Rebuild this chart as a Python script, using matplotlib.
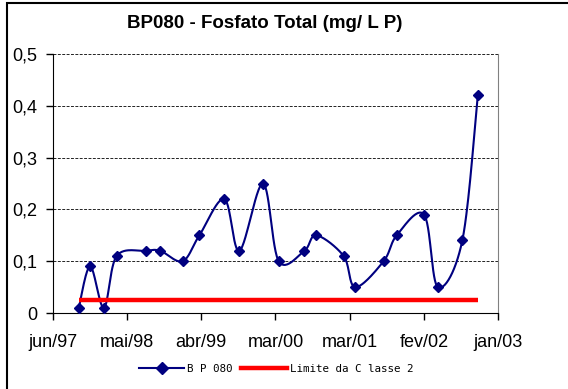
import numpy as np
import matplotlib
matplotlib.use("Agg")
import matplotlib.pyplot as plt
import matplotlib.dates as mdates
from matplotlib.lines import Line2D
from matplotlib.patches import Rectangle
import datetime as dt

plt.rcParams['font.family'] = ['Liberation Sans', 'DejaVu Sans']

# Sampling dates and total phosphate (mg/L P) at station BP080
sample_dates = [
    "1997-10-03", "1997-11-25", "1998-01-28", "1998-03-28", "1998-08-10",
    "1998-10-17", "1999-01-29", "1999-04-17", "1999-08-11", "1999-10-20",
    "2000-02-07", "2000-04-20", "2000-08-17", "2000-10-12", "2001-02-16",
    "2001-04-11", "2001-08-21", "2001-10-21", "2002-02-25", "2002-04-30",
    "2002-08-22", "2002-11-02",
]
bp080 = [
    0.01, 0.09, 0.01, 0.11, 0.12,
    0.12, 0.10, 0.15, 0.22, 0.12,
    0.25, 0.10, 0.12, 0.15, 0.11,
    0.05, 0.10, 0.15, 0.19, 0.05,
    0.14, 0.42,
]
class2_limit = 0.025

y_ticks = [0, 0.1, 0.2, 0.3, 0.4, 0.5]
y_tick_labels = ["0", "0,1", "0,2", "0,3", "0,4", "0,5"]
x_tick_labels = ["jun/97", "mai/98", "abr/99", "mar/00", "mar/01", "fev/02", "jan/03"]
axis_start = "1997-06-05"
tick_step_days = 345

W, H = 568, 389
fig = plt.figure(figsize=(W / 100, H / 100), dpi=100)
fig.patch.set_facecolor("white")

# chart area frame
fig.add_artist(Rectangle((7 / W, -0.1), 1.2, (H - 3) / H + 0.1,
                         transform=fig.transFigure, fill=False,
                         edgecolor="black", linewidth=1.5))

ax = fig.add_axes([53 / W, 1 - 313 / H, (498 - 53) / W, (313 - 54) / H])

x = mdates.date2num([dt.date.fromisoformat(d) for d in sample_dates])
x0 = mdates.date2num(dt.date.fromisoformat(axis_start))
xticks = [x0 + k * tick_step_days for k in range(len(x_tick_labels))]
ax.set_xlim(xticks[0], xticks[-1])
ax.set_ylim(0, 0.5)
ax.set_xticks(xticks)
ax.set_xticklabels(x_tick_labels)
ax.set_yticks(y_ticks)
ax.set_yticklabels(y_tick_labels)

ax.grid(axis="y", color="#222222", linestyle=(0, (3, 1.5)), linewidth=0.7)
ax.set_axisbelow(True)
ax.spines["top"].set_visible(False)
ax.spines["right"].set_color("#808080")
ax.spines["left"].set_color("black")
ax.spines["bottom"].set_color("black")
ax.tick_params(axis="both", direction="out", length=5, width=1, labelsize=13)
ax.tick_params(axis="x", pad=10)
ax.tick_params(axis="y", pad=6)


def smooth_curve(ax, xs, ys, n=30):
    """Bezier smoothing (Catmull-Rom style) evaluated in display space."""
    pts = ax.transData.transform(np.column_stack([xs, ys]))
    out = [pts[0]]
    m = len(pts)
    for i in range(m - 1):
        p0 = pts[i - 1] if i > 0 else pts[i]
        p1 = pts[i]
        p2 = pts[i + 1]
        p3 = pts[i + 2] if i + 2 < m else pts[i + 1]
        c1 = p1 + (p2 - p0) / 6.0
        c2 = p2 - (p3 - p1) / 6.0
        t = np.linspace(0, 1, n)[1:, None]
        seg = ((1 - t) ** 3) * p1 + 3 * ((1 - t) ** 2) * t * c1 \
            + 3 * (1 - t) * t ** 2 * c2 + t ** 3 * p2
        out.extend(seg)
    out = np.array(out)
    data = ax.transData.inverted().transform(out)
    return data[:, 0], data[:, 1]


sx, sy = smooth_curve(ax, x, bp080)
navy = "#000080"
ax.plot(sx, sy, color=navy, linewidth=1.5, zorder=3)
ax.plot(x, bp080, linestyle="none", marker="D", markersize=5.2,
        color=navy, zorder=4)
ax.plot(x, [class2_limit] * len(x), color="#ff0000", linewidth=3.2,
        solid_capstyle="butt", zorder=5)

fig.text(265 / W, 1 - 24 / H, "BP080 - Fosfato Total (mg/ L P)",
         ha="center", va="center", fontsize=13.5, fontweight="bold")

handles = [
    Line2D([], [], color=navy, linewidth=1.5, marker="D", markersize=6),
    Line2D([], [], color="#ff0000", linewidth=3.2),
]
fig.legend(handles, ["B P 080", "Limite da C lasse 2"], loc="center",
           bbox_to_anchor=(276 / W, 1 - 369 / H), ncol=2, frameon=False,
           prop={"family": "DejaVu Sans Mono", "size": 7.8},
           handlelength=4.2, handletextpad=0.25, columnspacing=0.8)

fig.savefig("out.png", dpi=100)
